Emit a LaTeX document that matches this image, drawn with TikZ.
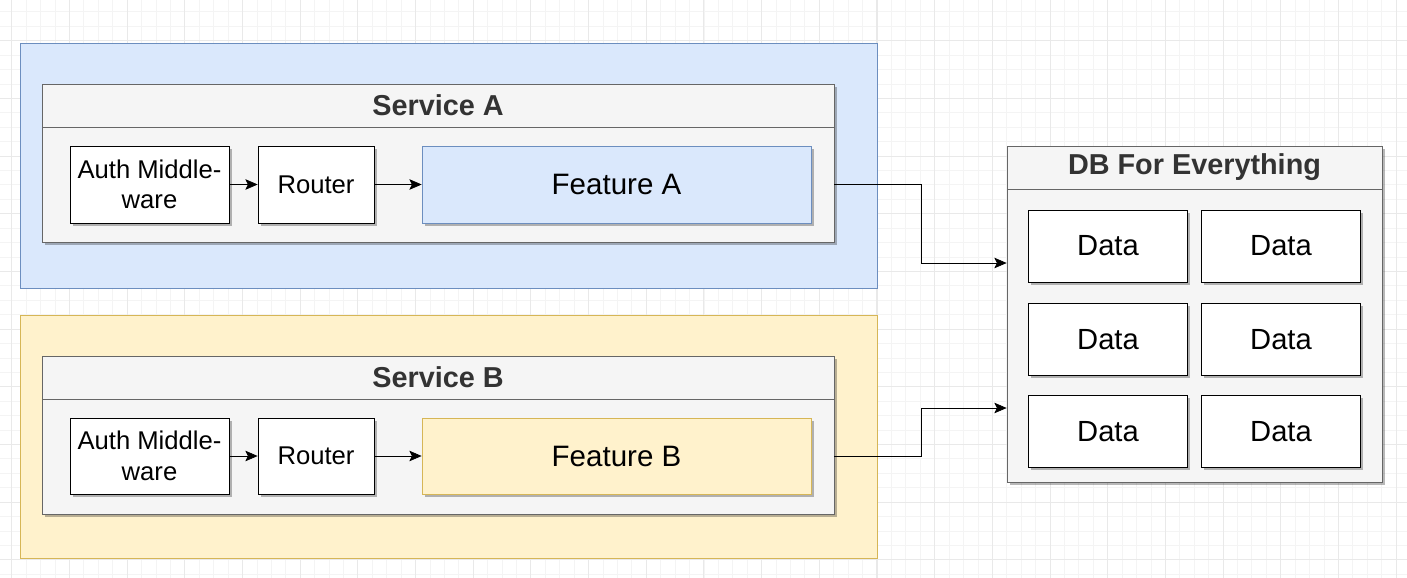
\documentclass[tikz,border=0pt]{standalone}
\usepackage{fontspec}
\setmainfont{Liberation Sans}
\usetikzlibrary{arrows.meta}
\usetikzlibrary{shadows}
\usetikzlibrary{calc}
\definecolor{blueFill}{HTML}{DAE8FC}
\definecolor{blueLine}{HTML}{6C8EBF}
\definecolor{yellowFill}{HTML}{FFF2CC}
\definecolor{yellowLine}{HTML}{D6B656}
\definecolor{headFill}{HTML}{F5F5F5}
\definecolor{headLine}{HTML}{666666}
\definecolor{headText}{HTML}{333333}
\definecolor{gridMinor}{HTML}{F4F4F4}
\definecolor{gridMajor}{HTML}{E9E9E9}
\tikzset{>={Stealth[length=7pt,width=6pt,inset=1.5pt]}, line width=0.9pt}
\tikzset{
  boxshadow/.style={drop shadow={shadow xshift=1.5pt, shadow yshift=-1.5pt, opacity=0.28, fill=black}},
  outer/.style={draw, rectangle, inner sep=0pt},
  head/.style={draw=headLine, fill=headFill, text=headText, inner sep=0pt, boxshadow,
    font=\fontsize{16.4}{19.5}\selectfont\bfseries},
  body/.style={draw=headLine, fill=headFill, inner sep=0pt, boxshadow},
  part/.style={draw=black, fill=white, inner sep=0pt, align=center, boxshadow,
    font=\fontsize{14.6}{17.4}\selectfont},
  feature/.style={inner sep=0pt, boxshadow, font=\fontsize{16.8}{19.8}\selectfont},
  data/.style={part, minimum width=159*\px, minimum height=72*\px, font=\fontsize{16.6}{19.8}\selectfont},
  gridminor/.style={draw=gridMinor, line width=0.5pt},
  gridmajor/.style={draw=gridMajor, line width=0.6pt}
}

\begin{document}
\begin{tikzpicture}[x=0.02cm, y=-0.02cm]
  \def\px{0.02cm}
  \useasboundingbox (0,0) rectangle (1407,578);

  % grid
  \foreach \k in {-2,...,37}
    \draw[gridminor] (0,{40.7+14.42*\k}) -- (1407,{40.7+14.42*\k});
  \foreach \k in {0,...,96}
    \draw[gridminor] ({11.8+14.42*\k},0) -- ({11.8+14.42*\k},578);
  \foreach \k in {0,...,9}
    \draw[gridmajor] (0,{40.7+57.68*\k}) -- (1407,{40.7+57.68*\k});
  \foreach \k in {0,...,24}
    \draw[gridmajor] ({11.8+57.68*\k},0) -- ({11.8+57.68*\k},578);

  % Service A
  \node[outer, draw=blueLine, fill=blueFill, minimum width=857*\px, minimum height=245*\px] (outA) at (448.5,165.5) {};
  \node[head, minimum width=792*\px, minimum height=43*\px] (headA) at (438,105.5) {Service A};
  \node[body, minimum width=792*\px, minimum height=115*\px] (bodyA) at (438,184.5) {};
  \node[part, minimum width=159*\px, minimum height=77*\px] (authA) at (149.5,184.5) {Auth Middle-\\ware};
  \node[part, minimum width=116*\px, minimum height=77*\px] (routerA) at (316,184.5) {Router};
  \node[feature, draw=blueLine, fill=blueFill, minimum width=389*\px, minimum height=77*\px] (featA) at (616.5,184.5) {Feature A};
  \draw[->] (authA) -- (routerA);
  \draw[->] (routerA) -- (featA);

  % Service B
  \node[outer, draw=yellowLine, fill=yellowFill, minimum width=857*\px, minimum height=243*\px] (outB) at (448.5,436.5) {};
  \node[head, minimum width=792*\px, minimum height=43*\px] (headB) at (438,377.5) {Service B};
  \node[body, minimum width=792*\px, minimum height=115*\px] (bodyB) at (438,456.5) {};
  \node[part, minimum width=159*\px, minimum height=76*\px] (authB) at (149.5,456) {Auth Middle-\\ware};
  \node[part, minimum width=116*\px, minimum height=76*\px] (routerB) at (316,456) {Router};
  \node[feature, draw=yellowLine, fill=yellowFill, minimum width=389*\px, minimum height=76*\px] (featB) at (616.5,456) {Feature B};
  \draw[->] (authB) -- (routerB);
  \draw[->] (routerB) -- (featB);

  % DB for everything
  \node[head, minimum width=375*\px, minimum height=43*\px] (dbHead) at (1194.5,167.5) {DB For Everything};
  \node[body, minimum width=375*\px, minimum height=293*\px] (db) at (1194.5,335.5) {};
  \foreach \c/\x in {1/1108, 2/1281}
    \foreach \r/\y in {1/246, 2/339.5, 3/431.5}
      \node[data] (data\r\c) at (\x,\y) {Data};

  % services to db
  \draw[->] (bodyA.east) -- ++(86.5,0) |- ($(db.west)+(0,-72.5)$);
  \draw[->] (bodyB.east) -- ++(86.5,0) |- ($(db.west)+(0,72.5)$);
\end{tikzpicture}
\end{document}
